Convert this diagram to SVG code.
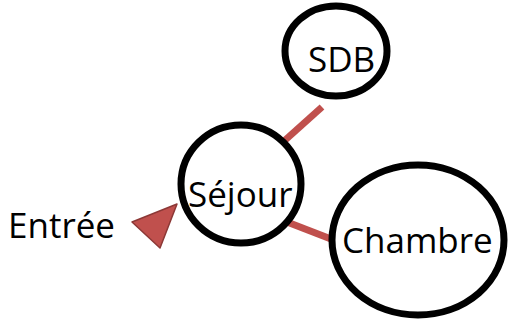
<svg xmlns="http://www.w3.org/2000/svg" width="510" height="324" viewBox="0 0 510 324">
<style>
.node{fill:#fff;stroke:#000;stroke-width:7}
.lbl{font-family:"Open Sans","Liberation Sans",sans-serif;font-size:35px;fill:#000}
.edge{stroke:#C0504D;stroke-width:7}
</style>
<rect width="510" height="324" fill="#fff"/>
<g id="connectors">
<line class="edge" x1="283" y1="142" x2="322" y2="107"/>
<line class="edge" x1="287" y1="222" x2="331" y2="239"/>
</g>
<g id="sdb">
<ellipse class="node" cx="336" cy="51" rx="51" ry="45"/>
<text class="lbl" x="308" y="72">SDB</text>
</g>
<g id="sejour">
<ellipse class="node" cx="241" cy="184" rx="60" ry="59"/>
<text class="lbl" x="188" y="207">Séjour</text>
</g>
<g id="chambre">
<ellipse class="node" cx="418" cy="240" rx="86" ry="75"/>
<text class="lbl" x="342" y="253">Chambre</text>
</g>
<g id="entree">
<text class="lbl" x="8" y="238">Entrée</text>
<polygon points="132,222 177,204 160,248" fill="#C0504D" stroke="#8C3836" stroke-width="1.5" stroke-linejoin="round"/>
</g>
</svg>
